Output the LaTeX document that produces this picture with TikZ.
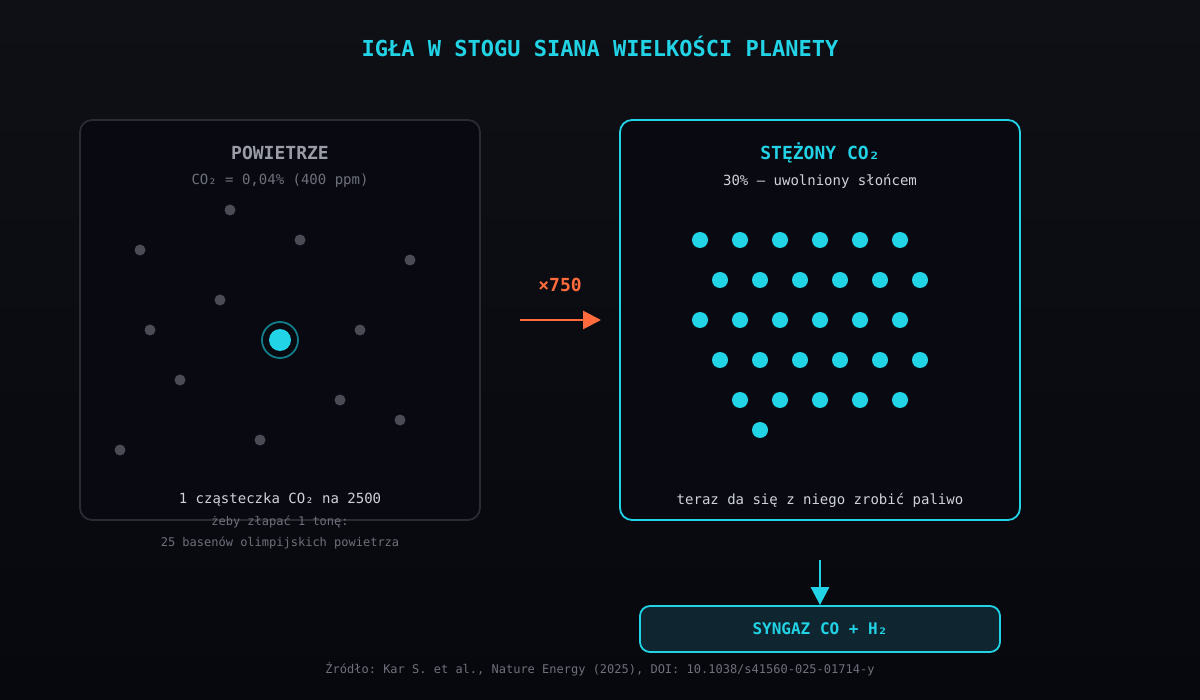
\documentclass[tikz,border=0pt]{standalone}
\usepackage{fontspec}
\setmonofont{DejaVu Sans Mono}
\usetikzlibrary{positioning,arrows.meta}
\definecolor{bgtop}{HTML}{0E1015}
\definecolor{bgbot}{HTML}{07080E}
\definecolor{cyanc}{HTML}{22D3E6}
\definecolor{ringc}{HTML}{127C8A}
\definecolor{orangec}{HTML}{FF6B3D}
\definecolor{grayd}{HTML}{4A4B55}
\definecolor{grayt}{HTML}{9A9CA8}
\definecolor{grays}{HTML}{6E707B}
\definecolor{lightt}{HTML}{D0D2DA}
\definecolor{panel}{HTML}{090A11}
\definecolor{panelb}{HTML}{2A2B33}
\definecolor{synfill}{HTML}{0F2530}
\newcommand{\px}[1]{\fontsize{\fpeval{#1/2}pt}{\fpeval{#1*0.6}pt}\selectfont\ttfamily}
\begin{document}
\begin{tikzpicture}[x=0.5pt,y=-0.5pt,
  txt/.style={inner sep=0pt,anchor=center},
  box/.style={draw,rounded corners=6pt,line width=0.9pt},
  airdot/.style={fill=grayd},
  co2dot/.style={fill=cyanc},
  flow/.style={line width=1.4pt,-{Triangle[length=9pt,width=9pt]}}]
% background
\shade[top color=bgtop,bottom color=bgbot] (0,0) rectangle (1200,700);
\useasboundingbox (0,0) rectangle (1200,700);
\node (title) [txt,cyanc] at (600,46) {\px{22}\bfseries IGŁA W STOGU SIANA WIELKOŚCI PLANETY};
% left panel
\draw[box,draw=panelb,fill=panel] (80,120) rectangle (480,520);
\node (air) [txt,grayt] at (280,153) {\px{18}\bfseries POWIETRZE};
\node (airsub) [txt,grays] at (280,181) {\px{14}CO₂ = 0,04\% (400 ppm)};
\foreach \x/\y in {230/210,300/240,140/250,410/260,220/300,150/330,360/330,180/380,340/400,400/420,260/440,120/450}
  \fill[airdot] (\x,\y) circle (5.5);
\draw[ringc,line width=0.9pt] (280,340) circle (18);
\fill[co2dot] (280,340) circle (11);
\node (airnote) [txt,lightt] at (280,500) {\px{14}1 cząsteczka CO₂ na 2500};
\node (airnote2) [txt,grays] at (280,522) {\px{12}żeby złapać 1 tonę:};
\node (airnote3) [txt,grays] at (280,543) {\px{12}25 basenów olimpijskich powietrza};
% right panel
\draw[box,draw=cyanc,fill=panel] (620,120) rectangle (1020,520);
\node (conc) [txt,cyanc] at (820,153) {\px{18}\bfseries STĘŻONY CO₂};
\node (concsub) [txt,lightt] at (820,181) {\px{14}30\% — uwolniony słońcem};
\foreach \y/\s in {240/700,280/720,320/700,360/720}
  \foreach \i in {0,...,5}
    \fill[co2dot] (\s+40*\i,\y) circle (8);
\foreach \i in {0,...,4}
  \fill[co2dot] (740+40*\i,400) circle (8);
\fill[co2dot] (760,430) circle (8);
\node (concnote) [txt,lightt] at (820,500) {\px{14}teraz da się z niego zrobić paliwo};
% arrows
\node (factor) [txt,orangec] at (560,285) {\px{18}\bfseries ×750};
\coordinate (a1) at (520,320);
\coordinate (a2) at (601,320);
\draw[flow,orangec] (a1) -- (a2);
\node (syngas) [box,draw=cyanc,fill=synfill,minimum width=180pt,minimum height=23pt,rounded corners=5pt] at (820,629) {};
\node (syntxt) [txt,cyanc] at (syngas) {\px{16}\bfseries SYNGAZ CO + H₂};
\coordinate (d1) at (820,560);
\draw[flow,cyanc] (d1) -- (syngas.north);
\node (source) [txt,grays] at (600,669) {\px{12}Źródło: Kar S. et al., Nature Energy (2025), DOI: 10.1038/s41560-025-01714-y};
\end{tikzpicture}
\end{document}
